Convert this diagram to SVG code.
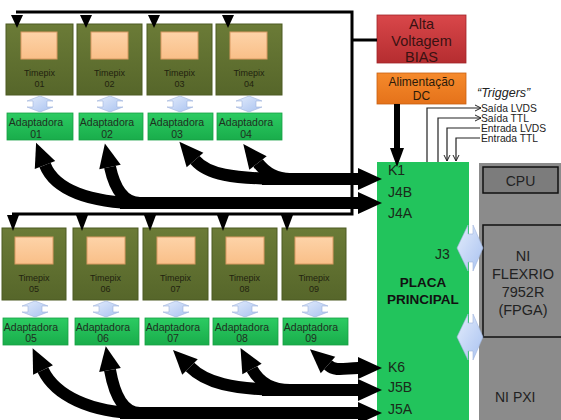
<svg xmlns="http://www.w3.org/2000/svg" width="561" height="420" viewBox="0 0 561 420">
<defs>
<linearGradient id="gTp" x1="0" y1="0" x2="0" y2="1"><stop offset="0" stop-color="#6b7b37"/><stop offset="1" stop-color="#56662a"/></linearGradient>
<linearGradient id="gChip" x1="0" y1="0" x2="0" y2="1"><stop offset="0" stop-color="#fdd3a8"/><stop offset="1" stop-color="#f9bf88"/></linearGradient>
<linearGradient id="gAd" x1="0" y1="0" x2="0" y2="1"><stop offset="0" stop-color="#2ccb62"/><stop offset="1" stop-color="#19ad4b"/></linearGradient>
<linearGradient id="gBlue" x1="0" y1="0" x2="1" y2="1"><stop offset="0" stop-color="#e3ecfc"/><stop offset="1" stop-color="#a9c2f0"/></linearGradient>
<linearGradient id="gRed" x1="0" y1="0" x2="0" y2="1"><stop offset="0" stop-color="#d9474a"/><stop offset="1" stop-color="#b52d30"/></linearGradient>
<linearGradient id="gOr" x1="0" y1="0" x2="0" y2="1"><stop offset="0" stop-color="#f58a2c"/><stop offset="1" stop-color="#e5721a"/></linearGradient>
<marker id="big" markerUnits="userSpaceOnUse" viewBox="0 -12 24 24" markerWidth="24" markerHeight="24" refX="0" refY="0" orient="auto-start-reverse" overflow="visible">
<path d="M0,-11 L24,0 L0,11 z" fill="#000"/>
</marker>
<marker id="thin" markerUnits="userSpaceOnUse" viewBox="-1 -4 8 8" markerWidth="8" markerHeight="8" refX="6" refY="0" orient="auto" overflow="visible">
<path d="M0,-3 L6,0 L0,3" fill="none" stroke="#222" stroke-width="1"/>
</marker>
<polygon id="vArr" points="0,-8 13,-3 7,-3 7,3 13,3 0,8 -13,3 -7,3 -7,-3 -13,-3" fill="url(#gBlue)" stroke="#9fb4dc" stroke-width="0.6"/>
<polygon id="hArr" points="-13,0 -2,-23 -2,-14 3,-14 3,-23 13,0 3,23 3,14 -2,14 -2,23" fill="url(#gBlue)" stroke="#9fb4dc" stroke-width="0.6"/>
</defs>
<style>
.tp{fill:url(#gTp);stroke:#4d5b22;stroke-width:1}
.chip{fill:url(#gChip);stroke:#d99a62;stroke-width:1}
.ad{fill:url(#gAd);stroke:#17a044;stroke-width:0.8}
.t9{font-family:"Liberation Sans",Arial,sans-serif;font-size:9px;fill:#22220f;text-anchor:middle}
.t10{font-family:"Liberation Sans",Arial,sans-serif;font-size:10.5px;fill:#1f2f1f;text-anchor:middle}
.lbl{font-family:"Liberation Sans",Arial,sans-serif;font-size:14px;fill:#1a2a1a}
.mid{text-anchor:middle}
.trg{font-family:"Liberation Sans",Arial,sans-serif;font-size:10.3px;fill:#222}
.bus{fill:none;stroke:#000;stroke-width:3}
.thick{fill:none;stroke:#000;stroke-width:12;marker-end:url(#big)}
.tl{fill:none;stroke:#222;stroke-width:1.2}
</style>
<rect width="561" height="420" fill="#fff"/>

<g id="tp01"><rect class="tp" x="6" y="24" width="67" height="71"/><rect class="chip" x="21" y="32" width="36" height="27"/><text class="t9" x="39.5" y="76">Timepix</text><text class="t9" x="39.5" y="87">01</text></g>
<g id="tp02"><rect class="tp" x="77" y="24" width="65" height="71"/><rect class="chip" x="91" y="32" width="37" height="27"/><text class="t9" x="109.5" y="76">Timepix</text><text class="t9" x="109.5" y="87">02</text></g>
<g id="tp03"><rect class="tp" x="147" y="24" width="65" height="71"/><rect class="chip" x="161" y="32" width="37" height="27"/><text class="t9" x="179.5" y="76">Timepix</text><text class="t9" x="179.5" y="87">03</text></g>
<g id="tp04"><rect class="tp" x="216" y="24" width="66" height="71"/><rect class="chip" x="230" y="32" width="37" height="27"/><text class="t9" x="249" y="76">Timepix</text><text class="t9" x="249" y="87">04</text></g>

<g id="ad01"><rect class="ad" x="7" y="113" width="66" height="27"/><text class="t10" x="36" y="126">Adaptadora</text><text class="t10" x="36" y="138">01</text></g>
<g id="ad02"><rect class="ad" x="79" y="113" width="64" height="27"/><text class="t10" x="107" y="126">Adaptadora</text><text class="t10" x="107" y="138">02</text></g>
<g id="ad03"><rect class="ad" x="148" y="113" width="65" height="27"/><text class="t10" x="177" y="126">Adaptadora</text><text class="t10" x="177" y="138">03</text></g>
<g id="ad04"><rect class="ad" x="217" y="113" width="65" height="27"/><text class="t10" x="246" y="126">Adaptadora</text><text class="t10" x="246" y="138">04</text></g>

<g id="tp05"><rect class="tp" x="2" y="228" width="64" height="72"/><rect class="chip" x="15" y="237" width="38" height="27"/><text class="t9" x="34" y="281">Timepix</text><text class="t9" x="34" y="292">05</text></g>
<g id="tp06"><rect class="tp" x="73" y="228" width="65" height="72"/><rect class="chip" x="87" y="237" width="38" height="27"/><text class="t9" x="105.5" y="281">Timepix</text><text class="t9" x="105.5" y="292">06</text></g>
<g id="tp07"><rect class="tp" x="143" y="228" width="65" height="72"/><rect class="chip" x="157" y="237" width="38" height="27"/><text class="t9" x="175.5" y="281">Timepix</text><text class="t9" x="175.5" y="292">07</text></g>
<g id="tp08"><rect class="tp" x="212" y="228" width="65" height="72"/><rect class="chip" x="226" y="237" width="38" height="27"/><text class="t9" x="244.5" y="281">Timepix</text><text class="t9" x="244.5" y="292">08</text></g>
<g id="tp09"><rect class="tp" x="282" y="228" width="64" height="72"/><rect class="chip" x="295" y="237" width="38" height="27"/><text class="t9" x="314" y="281">Timepix</text><text class="t9" x="314" y="292">09</text></g>

<g id="ad05"><rect class="ad" x="3" y="318" width="65" height="27"/><text class="t10" x="31" y="331">Adaptadora</text><text class="t10" x="31" y="342">05</text></g>
<g id="ad06"><rect class="ad" x="75" y="318" width="64" height="27"/><text class="t10" x="103" y="331">Adaptadora</text><text class="t10" x="103" y="342">06</text></g>
<g id="ad07"><rect class="ad" x="145" y="318" width="64" height="27"/><text class="t10" x="173" y="331">Adaptadora</text><text class="t10" x="173" y="342">07</text></g>
<g id="ad08"><rect class="ad" x="213" y="318" width="65" height="27"/><text class="t10" x="242" y="331">Adaptadora</text><text class="t10" x="242" y="342">08</text></g>
<g id="ad09"><rect class="ad" x="283" y="318" width="65" height="27"/><text class="t10" x="311" y="331">Adaptadora</text><text class="t10" x="311" y="342">09</text></g>

<g id="links">
<use href="#vArr" x="40" y="104"/><use href="#vArr" x="110" y="104"/><use href="#vArr" x="180" y="104"/><use href="#vArr" x="249" y="104"/>
<use href="#vArr" x="35" y="309"/><use href="#vArr" x="106" y="309"/><use href="#vArr" x="176" y="309"/><use href="#vArr" x="245" y="309"/><use href="#vArr" x="315" y="309"/>
</g>

<g id="bias"><rect x="377" y="15" width="89" height="48" fill="url(#gRed)" stroke="#a02528" stroke-width="0.8"/>
<text class="lbl mid" x="421.5" y="29" style="font-size:14.5px;fill:#3a1212">Alta</text>
<text class="lbl mid" x="421.5" y="46" style="font-size:14.5px;fill:#3a1212">Voltagem</text>
<text class="lbl mid" x="421.5" y="62" style="font-size:14.5px;fill:#3a1212">BIAS</text></g>

<g id="dc"><rect x="377" y="73" width="89" height="31" fill="url(#gOr)" stroke="#c86012" stroke-width="0.8"/>
<text class="lbl mid" x="421.5" y="86" style="font-size:12px;fill:#2a1a0a">Alimentação</text>
<text class="lbl mid" x="421.5" y="100" style="font-size:12px;fill:#2a1a0a">DC</text></g>

<g id="pxi"><rect x="479" y="163" width="82" height="257" fill="#8b8b8b"/>
<text class="lbl" x="495" y="402" style="fill:#222">NI PXI</text></g>
<g id="cpu"><rect x="483" y="167" width="75" height="26" fill="#7c7c7c" stroke="#111" stroke-width="1.5"/>
<text class="lbl mid" x="520.5" y="186" style="fill:#222">CPU</text></g>
<g id="flexrio"><rect x="483" y="225" width="82" height="112" fill="#8b8b8b" stroke="#111" stroke-width="1.5"/>
<text class="lbl mid" x="523" y="261" style="font-size:14.5px;fill:#222">NI</text>
<text class="lbl mid" x="523" y="279" style="font-size:14.5px;fill:#222">FLEXRIO</text>
<text class="lbl mid" x="523" y="297" style="font-size:14.5px;fill:#222">7952R</text>
<text class="lbl mid" x="523" y="315" style="font-size:14.5px;fill:#222">(FPGA)</text></g>

<g id="placa"><rect x="377" y="162" width="92" height="260" fill="#22c45c"/>
<text class="lbl" x="388" y="175">K1</text>
<text class="lbl" x="388" y="197">J4B</text>
<text class="lbl" x="388" y="218">J4A</text>
<text class="lbl" x="435" y="259">J3</text>
<text class="lbl mid" x="423" y="287" style="font-weight:bold;font-size:13.5px;fill:#111">PLACA</text>
<text class="lbl mid" x="423" y="304" style="font-weight:bold;font-size:13.5px;fill:#111">PRINCIPAL</text>
<text class="lbl" x="388" y="372">K6</text>
<text class="lbl" x="388" y="392">J5B</text>
<text class="lbl" x="388" y="414">J5A</text></g>

<g id="triggers">
<text x="477" y="97" style="font-family:'Liberation Sans',Arial,sans-serif;font-size:12.5px;font-style:italic;fill:#222">“Triggers”</text>
<text class="trg" x="481" y="112">Saída LVDS</text>
<text class="trg" x="481" y="122">Saída TTL</text>
<text class="trg" x="481" y="132">Entrada LVDS</text>
<text class="trg" x="481" y="142">Entrada TTL</text>
</g>

<g id="connectors">
<use href="#hArr" x="470" y="248"/><use href="#hArr" x="470" y="337"/>
<path class="bus" d="M16,12 H352 V214 H12"/>
<path class="bus" d="M352,40 H377"/>
<g fill="#000">
<polygon points="11,15 23,15 17,28"/><polygon points="80,15 92,15 86,28"/><polygon points="148,15 160,15 154,28"/><polygon points="222,15 234,15 228,28"/>
<polygon points="7,215 19,215 13,231"/><polygon points="76,215 88,215 82,231"/><polygon points="144,215 156,215 150,231"/><polygon points="217,215 229,215 223,231"/><polygon points="281,215 293,215 287,231"/>
</g>
<path d="M397,104 V148" stroke="#000" stroke-width="6" fill="none"/>
<polygon points="390,148 404,148 397,167" fill="#000"/>
<path class="tl" d="M427,162 V108 H481" marker-end="url(#thin)"/>
<path class="tl" d="M438,162 V118 H481" marker-end="url(#thin)"/>
<path class="tl" d="M480,128 H447 V161" marker-end="url(#thin)"/>
<path class="tl" d="M480,138 H456 V161" marker-end="url(#thin)"/>

<path class="thick" d="M120,203 L358,203"/>
<path class="thick" d="M140,203 C90,203 55,190 45,165"/>
<path class="thick" d="M140,203 C125,203 115,190 110,167"/>
<path class="thick" d="M262,179 L358,179"/>
<path class="thick" d="M290,179 C230,179 207,174 195,160"/>
<path class="thick" d="M290,179 C275,179 265,172 258,163"/>

<path class="thick" d="M120,413 L358,413"/>
<path class="thick" d="M140,413 C90,413 55,395 43,370"/>
<path class="thick" d="M140,413 C125,413 115,398 110,370"/>
<path class="thick" d="M262,390 L358,390"/>
<path class="thick" d="M290,390 C230,390 205,382 190,367"/>
<path class="thick" d="M290,390 C270,390 258,380 252,369"/>
<path class="thick" d="M328,365 C336,372 345,368 358,368" marker-start="url(#big)"/>
</g>
</svg>
